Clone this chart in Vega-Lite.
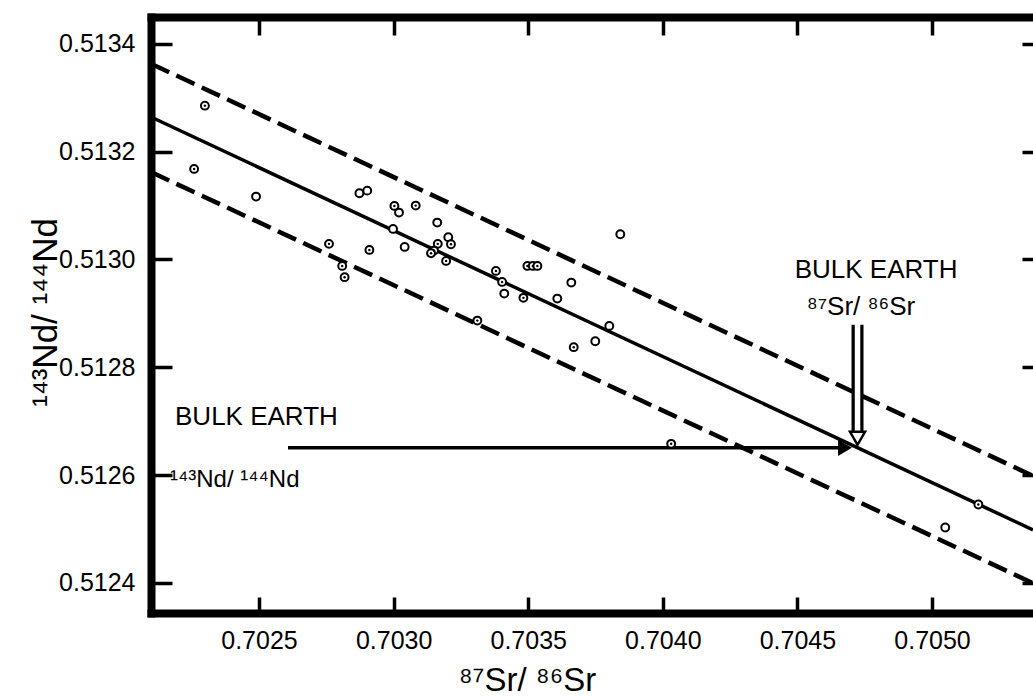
{
  "$schema": "https://vega.github.io/schema/vega-lite/v6.json",
  "width": 882,
  "height": 596,
  "autosize": {"type": "none"},
  "padding": {"left": 151, "top": 17, "right": 0, "bottom": 85},
  "background": "white",
  "config": {
    "view": {"stroke": null},
    "font": "Liberation Sans",
    "axis": {
      "grid": false,
      "domainColor": "black",
      "tickColor": "black",
      "labelColor": "black",
      "titleColor": "black",
      "labelFont": "Liberation Sans",
      "titleFont": "Liberation Sans",
      "titleFontWeight": "normal",
      "labelOverlap": false,
      "domainCap": "square",
      "domainWidth": 8,
      "tickWidth": 3.5
    }
  },
  "datasets": {
    "samples": [
      {"sr": 0.702299, "nd": 0.5132855, "centre": "dot"},
      {"sr": 0.702259, "nd": 0.5131681, "centre": "dot"},
      {"sr": 0.702489, "nd": 0.5131167, "centre": "open"},
      {"sr": 0.70276, "nd": 0.513029, "centre": "dot"},
      {"sr": 0.702809, "nd": 0.5129881, "centre": "dot"},
      {"sr": 0.702818, "nd": 0.5129672, "centre": "dot"},
      {"sr": 0.702873, "nd": 0.513123, "centre": "open"},
      {"sr": 0.702902, "nd": 0.5131278, "centre": "open"},
      {"sr": 0.70291, "nd": 0.5130178, "centre": "dot"},
      {"sr": 0.703003, "nd": 0.5130994, "centre": "dot"},
      {"sr": 0.70302, "nd": 0.513087, "centre": "open"},
      {"sr": 0.702998, "nd": 0.5130568, "centre": "open"},
      {"sr": 0.703041, "nd": 0.5130234, "centre": "open"},
      {"sr": 0.703082, "nd": 0.5131, "centre": "dot"},
      {"sr": 0.703162, "nd": 0.5130685, "centre": "open"},
      {"sr": 0.703164, "nd": 0.513029, "centre": "dot"},
      {"sr": 0.703203, "nd": 0.5130414, "centre": "open"},
      {"sr": 0.703213, "nd": 0.5130284, "centre": "dot"},
      {"sr": 0.70315, "nd": 0.5130165, "centre": "dot"},
      {"sr": 0.703139, "nd": 0.5130117, "centre": "dot"},
      {"sr": 0.703195, "nd": 0.5129974, "centre": "dot"},
      {"sr": 0.703311, "nd": 0.5128866, "centre": "dot"},
      {"sr": 0.70338, "nd": 0.5129788, "centre": "dot"},
      {"sr": 0.703403, "nd": 0.5129584, "centre": "dot"},
      {"sr": 0.703411, "nd": 0.5129367, "centre": "open"},
      {"sr": 0.703482, "nd": 0.5129288, "centre": "dot"},
      {"sr": 0.703497, "nd": 0.5129881, "centre": "dot"},
      {"sr": 0.703517, "nd": 0.5129881, "centre": "dot"},
      {"sr": 0.703534, "nd": 0.5129881, "centre": "dot"},
      {"sr": 0.703608, "nd": 0.5129275, "centre": "open"},
      {"sr": 0.70366, "nd": 0.5129571, "centre": "open"},
      {"sr": 0.703842, "nd": 0.5130469, "centre": "open"},
      {"sr": 0.703801, "nd": 0.5128768, "centre": "open"},
      {"sr": 0.703749, "nd": 0.5128484, "centre": "open"},
      {"sr": 0.703669, "nd": 0.5128373, "centre": "dot"},
      {"sr": 0.704031, "nd": 0.5126579, "centre": "dot"},
      {"sr": 0.705172, "nd": 0.5125453, "centre": "dot"},
      {"sr": 0.705049, "nd": 0.5125026, "centre": "open"}
    ],
    "lines": [
      {"line": "fit", "sr": 0.7020988, "nd": 0.5132644},
      {"line": "fit", "sr": 0.705375, "nd": 0.5124983},
      {"line": "upper", "sr": 0.7020988, "nd": 0.5133633},
      {"line": "upper", "sr": 0.705375, "nd": 0.5125985},
      {"line": "lower", "sr": 0.7020988, "nd": 0.5131623},
      {"line": "lower", "sr": 0.705375, "nd": 0.5123994}
    ],
    "harrow": [
      {"sr": 0.7026077, "sr2": 0.7046768, "nd": 0.5126505}
    ],
    "harrowhead": [
      {"sr": 0.7046768, "nd": 0.5126505}
    ],
    "varrow": [
      {"sr": 0.7047232, "top": 0.5128787, "topinner": 0.5128917, "bottom": 0.5126764}
    ],
    "varrowhead": [
      {"sr": 0.7047232, "nd": 0.5126681}
    ],
    "notes": [
      {"kind": "leftbig", "text": "BULK  EARTH", "sr": 0.702188, "nd": 0.512693},
      {"kind": "leftsmall", "text": "¹⁴³Nd/ ¹⁴⁴Nd", "sr": 0.702169, "nd": 0.512578},
      {"kind": "right", "text": "BULK  EARTH", "sr": 0.704792, "nd": 0.512966},
      {"kind": "right", "text": "⁸⁷Sr/ ⁸⁶Sr", "sr": 0.704736, "nd": 0.512897}
    ]
  },
  "layer": [
    {
      "data": {"name": "lines"},
      "transform": [{"filter": "datum.line === 'fit'"}],
      "mark": {"type": "line", "color": "black", "strokeWidth": 3.5},
      "encoding": {
        "x": {"field": "sr", "type": "quantitative", "scale": {"domain": [0.7020988, 0.705375], "nice": false, "zero": false},
          "axis": {"orient": "top", "values": [0.7025, 0.703, 0.7035, 0.704, 0.7045, 0.705], "labels": false, "title": null, "tickSize": -18}},
        "y": {"field": "nd", "type": "quantitative", "scale": {"domain": [0.512344, 0.51345], "nice": false, "zero": false},
          "axis": {"orient": "right", "values": [0.5124, 0.5126, 0.5128, 0.513, 0.5132, 0.5134], "labels": false, "title": null, "domain": false, "tickSize": -11}}
      }
    },
    {
      "data": {"name": "lines"},
      "transform": [{"filter": "datum.line !== 'fit'"}],
      "mark": {"type": "line", "color": "black", "strokeWidth": 4.5, "strokeDash": [20, 8]},
      "encoding": {
        "detail": {"field": "line"},
        "x": {"field": "sr", "type": "quantitative", "scale": {"domain": [0.7020988, 0.705375], "nice": false, "zero": false}, "axis": null},
        "y": {"field": "nd", "type": "quantitative", "scale": {"domain": [0.512344, 0.51345], "nice": false, "zero": false}, "axis": null}
      }
    },
    {
      "data": {"name": "harrow"},
      "mark": {"type": "rule", "color": "black", "strokeWidth": 3.5},
      "encoding": {
        "x": {"field": "sr", "type": "quantitative", "scale": {"domain": [0.7020988, 0.705375], "nice": false, "zero": false}, "axis": null},
        "x2": {"field": "sr2"},
        "y": {"field": "nd", "type": "quantitative", "scale": {"domain": [0.512344, 0.51345], "nice": false, "zero": false}, "axis": null}
      }
    },
    {
      "data": {"name": "harrowhead"},
      "mark": {"type": "point", "shape": "triangle-right", "filled": true, "color": "black", "opacity": 1, "size": 260},
      "encoding": {
        "x": {"field": "sr", "type": "quantitative", "scale": {"domain": [0.7020988, 0.705375], "nice": false, "zero": false}, "axis": null},
        "y": {"field": "nd", "type": "quantitative", "scale": {"domain": [0.512344, 0.51345], "nice": false, "zero": false}, "axis": null}
      }
    },
    {
      "data": {"name": "varrow"},
      "mark": {"type": "rule", "color": "black", "strokeWidth": 12},
      "encoding": {
        "x": {"field": "sr", "type": "quantitative", "scale": {"domain": [0.7020988, 0.705375], "nice": false, "zero": false}, "axis": null},
        "y": {"field": "top", "type": "quantitative", "scale": {"domain": [0.512344, 0.51345], "nice": false, "zero": false}, "axis": null},
        "y2": {"field": "bottom"}
      }
    },
    {
      "data": {"name": "varrow"},
      "mark": {"type": "rule", "color": "white", "strokeWidth": 5.5},
      "encoding": {
        "x": {"field": "sr", "type": "quantitative", "scale": {"domain": [0.7020988, 0.705375], "nice": false, "zero": false}, "axis": null},
        "y": {"field": "topinner", "type": "quantitative", "scale": {"domain": [0.512344, 0.51345], "nice": false, "zero": false}, "axis": null},
        "y2": {"field": "bottom"}
      }
    },
    {
      "data": {"name": "varrowhead"},
      "mark": {"type": "point", "shape": "triangle-down", "filled": true, "fill": "white", "stroke": "black", "strokeWidth": 2.5, "opacity": 1, "size": 225},
      "encoding": {
        "x": {"field": "sr", "type": "quantitative", "scale": {"domain": [0.7020988, 0.705375], "nice": false, "zero": false}, "axis": null},
        "y": {"field": "nd", "type": "quantitative", "scale": {"domain": [0.512344, 0.51345], "nice": false, "zero": false}, "axis": null}
      }
    },
    {
      "data": {"name": "samples"},
      "mark": {"type": "point", "shape": "circle", "filled": true, "fill": "white", "stroke": "black", "strokeWidth": 2, "opacity": 1, "size": 62},
      "encoding": {
        "x": {"field": "sr", "type": "quantitative", "scale": {"domain": [0.7020988, 0.705375], "nice": false, "zero": false},
          "axis": {"orient": "bottom", "values": [0.7025, 0.703, 0.7035, 0.704, 0.7045, 0.705], "format": ".4f", "labelFontSize": 25, "tickSize": -16, "labelPadding": 31, "labelDx": 26,
            "title": "⁸⁷Sr/ ⁸⁶Sr", "titleFontSize": 33, "titleAlign": "center", "titleBaseline": "alphabetic", "titleX": 376, "titleY": 77}},
        "y": {"field": "nd", "type": "quantitative", "scale": {"domain": [0.512344, 0.51345], "nice": false, "zero": false},
          "axis": {"orient": "left", "values": [0.5124, 0.5126, 0.5128, 0.513, 0.5132, 0.5134], "format": ".4f", "labelFontSize": 25, "tickSize": -21, "labelPadding": 37, "labelBaseline": "middle",
            "title": "¹⁴³Nd/ ¹⁴⁴Nd", "titleFontSize": 35, "titleAngle": 270, "titleAlign": "center", "titleBaseline": "alphabetic", "titleX": -95, "titleY": 295}}
      }
    },
    {
      "data": {"name": "samples"},
      "transform": [{"filter": "datum.centre === 'dot'"}],
      "mark": {"type": "circle", "color": "black", "opacity": 1, "size": 6},
      "encoding": {
        "x": {"field": "sr", "type": "quantitative", "scale": {"domain": [0.7020988, 0.705375], "nice": false, "zero": false}, "axis": null},
        "y": {"field": "nd", "type": "quantitative", "scale": {"domain": [0.512344, 0.51345], "nice": false, "zero": false}, "axis": null}
      }
    },
    {
      "data": {"name": "notes"},
      "transform": [{"filter": "datum.kind === 'leftbig'"}],
      "mark": {"type": "text", "color": "black", "fontSize": 26, "align": "left", "baseline": "alphabetic", "font": "Liberation Sans"},
      "encoding": {
        "text": {"field": "text"},
        "x": {"field": "sr", "type": "quantitative", "scale": {"domain": [0.7020988, 0.705375], "nice": false, "zero": false}, "axis": null},
        "y": {"field": "nd", "type": "quantitative", "scale": {"domain": [0.512344, 0.51345], "nice": false, "zero": false}, "axis": null}
      }
    },
    {
      "data": {"name": "notes"},
      "transform": [{"filter": "datum.kind === 'leftsmall'"}],
      "mark": {"type": "text", "color": "black", "fontSize": 24, "align": "left", "baseline": "alphabetic", "font": "Liberation Sans"},
      "encoding": {
        "text": {"field": "text"},
        "x": {"field": "sr", "type": "quantitative", "scale": {"domain": [0.7020988, 0.705375], "nice": false, "zero": false}, "axis": null},
        "y": {"field": "nd", "type": "quantitative", "scale": {"domain": [0.512344, 0.51345], "nice": false, "zero": false}, "axis": null}
      }
    },
    {
      "data": {"name": "notes"},
      "transform": [{"filter": "datum.kind === 'right'"}],
      "mark": {"type": "text", "color": "black", "fontSize": 26, "align": "center", "baseline": "alphabetic", "font": "Liberation Sans"},
      "encoding": {
        "text": {"field": "text"},
        "x": {"field": "sr", "type": "quantitative", "scale": {"domain": [0.7020988, 0.705375], "nice": false, "zero": false}, "axis": null},
        "y": {"field": "nd", "type": "quantitative", "scale": {"domain": [0.512344, 0.51345], "nice": false, "zero": false}, "axis": null}
      }
    }
  ],
  "resolve": {"axis": {"x": "independent", "y": "independent"}}
}
